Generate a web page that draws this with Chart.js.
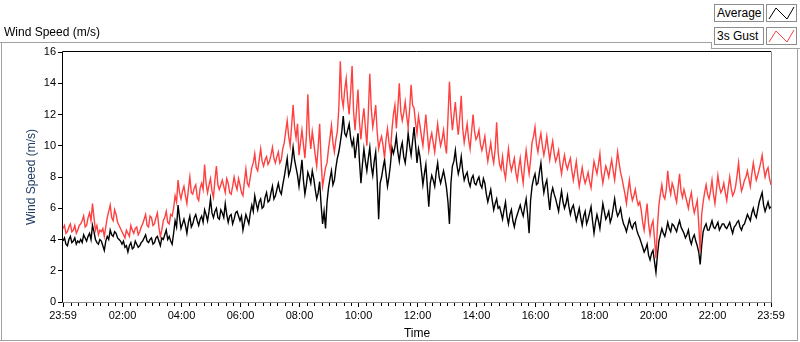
<!DOCTYPE html>
<html>
<head>
<meta charset="utf-8">
<title>Wind Speed</title>
<script src="https://cdn.jsdelivr.net/npm/chart.js@4.4.0/dist/chart.umd.min.js"></script>
<style>
  body { margin: 0; background: #fff; }
  #wrap { position: relative; width: 800px; height: 342px; overflow: hidden; font-family: "Liberation Sans", Arial, sans-serif; }
  #myChart { position: absolute; left: 0; top: 0; }
  .ln { position: absolute; background: #a0a0a0; }
  .lbl { position: absolute; font-size: 12px; color: #000; white-space: nowrap; }
  .box { position: absolute; height: 16px; border: 1px solid #8c8c8c; background: #fff; font-size: 12px; line-height: 16px; }
  .box svg { display: block; }
</style>
</head>
<body>
<div id="wrap">
  <canvas id="myChart" width="800" height="342"></canvas>

  <div class="lbl" style="left:4px; top:25px;">Wind Speed (m/s)</div>

  <div class="ln" style="left:0; top:42px; width:711px; height:1px;"></div>
  <div class="ln" style="left:711px; top:42px; width:1px; height:6px;"></div>
  <div class="ln" style="left:711px; top:48px; width:89px; height:1px;"></div>
  <div class="ln" style="left:797px; top:48px; width:1px; height:293px;"></div>
  <div class="ln" style="left:0; top:340px; width:798px; height:1px;"></div>
  <div class="ln" style="left:1px; top:42px; width:1px; height:299px;"></div>

  <div class="box" style="left:714px; top:4px; width:46px; padding-left:2px;">Average</div>
  <div class="box" style="left:766px; top:4px; width:29px;">
    <svg width="29" height="16"><polyline points="2,14 9,3 20,14 27,2" fill="none" stroke="#000" stroke-width="1"/></svg>
  </div>
  <div class="box" style="left:714px; top:27px; width:46px; padding-left:2px;">3s Gust</div>
  <div class="box" style="left:766px; top:27px; width:29px;">
    <svg width="29" height="16"><polyline points="2,14 9,3 20,14 27,2" fill="none" stroke="#ff4040" stroke-width="1"/></svg>
  </div>
</div>

<script>
// one sample every 3 minutes, starting 23:59
const stepMinutes = 3

const average = [
  3.9, 4.1, 3.7, 3.6, 4.0, 4.2, 3.8, 3.9, 4.1, 3.7, 3.9, 3.8,
  4.0, 3.8, 4.3, 4.1, 3.9, 4.2, 4.4, 4.0, 4.9, 4.5,
  4.0, 3.8, 3.7, 4.0, 3.9, 3.6, 3.3, 3.9,
  4.2, 4.0, 4.6, 4.3, 4.2, 4.5, 4.4, 4.1, 4.0, 3.9,
  3.7, 3.9, 3.5, 3.6, 3.2, 3.6,
  3.8, 3.4, 3.5, 3.9, 3.7, 3.5, 3.6, 3.8,
  3.9, 4.1, 4.3, 3.9, 3.8, 4.0, 4.1, 3.7, 3.8, 4.1, 4.2, 3.9, 3.6, 4.1,
  4.0, 4.3, 4.6, 4.0, 4.2, 3.9, 3.7, 4.4,
  5.2, 4.8, 6.2, 5.4,
  4.7, 5.0, 5.3, 4.9, 4.4, 5.1, 5.5, 4.8, 5.0, 5.4, 5.6, 5.2, 4.9, 5.3,
  5.5, 5.1, 5.9, 5.6, 5.2, 5.8, 6.6, 5.7, 5.4, 5.8, 6.0, 5.4, 5.3, 5.9,
  5.7, 5.4, 6.3, 5.6, 5.1, 5.5, 5.6, 5.0, 5.3, 5.7, 5.8, 5.5,
  5.2, 5.5, 4.6, 5.1, 5.6, 5.3, 5.0, 5.7,
  6.2, 5.8, 6.8, 6.3, 5.9, 6.4, 6.6, 6.0, 6.1, 6.7, 7.0, 6.4,
  6.5, 7.0, 7.4, 6.6, 6.8, 7.2, 7.6, 7.1, 6.9, 7.5,
  8.0, 8.6, 9.2, 8.1, 8.4, 9.0, 9.9, 9.1, 8.6, 8.1,
  7.4, 8.2, 9.1, 7.8, 6.9, 7.5, 8.3, 8.0, 7.6, 8.4,
  7.9, 7.2, 6.6, 7.0, 7.7, 6.2,
  5.0, 5.8, 4.7, 6.4,
  7.3, 7.9, 8.4, 7.5, 7.8, 8.6, 9.2, 9.6,
  10.2, 10.9, 11.9, 10.8, 10.6, 11.0, 11.4, 10.5, 10.0, 10.4,
  9.2, 10.0, 10.8, 9.0, 7.6, 8.8, 9.8, 9.0,
  8.4, 9.2, 9.9, 8.7, 8.1, 9.0, 9.6, 7.8, 5.3, 7.6,
  8.0, 8.6, 9.1, 8.2, 7.4, 8.0, 8.8, 9.9,
  9.5, 9.9, 10.6, 9.6, 9.0, 9.8, 10.2, 9.3, 8.9, 9.7, 10.8, 10.0, 9.4, 10.3, 11.2, 10.1, 8.9, 9.8,
  9.3, 8.4, 7.5, 8.2, 8.8, 7.4, 6.1, 7.6,
  8.1, 7.8, 7.4, 8.3, 8.9, 8.0, 7.6, 8.0, 8.4, 7.9, 7.3, 6.4,
  5.0, 7.6, 8.7, 9.0, 9.7, 8.8, 8.2, 8.6, 9.3, 8.4,
  7.8, 8.1, 8.3, 7.7, 7.4, 7.9, 8.1, 7.6, 7.5, 7.8, 8.0, 7.5, 7.3, 7.9,
  7.6, 6.9, 6.4, 6.8, 7.2, 6.5, 5.9, 6.3, 6.6, 6.0,
  6.1, 5.7, 5.3, 5.9, 6.4, 5.5, 5.0, 5.6, 5.9, 5.2, 4.8, 5.3, 5.6, 5.9,
  6.2, 5.8, 5.5, 6.1, 6.6, 5.6, 4.4, 6.5,
  7.4, 7.9, 8.2, 7.5, 7.6, 8.3, 8.9, 7.8,
  7.0, 7.5, 7.8, 6.8, 5.9, 6.9, 7.3, 6.9,
  6.6, 6.2, 5.8, 6.5, 7.1, 6.4, 6.0, 6.3, 6.8, 6.1, 5.6, 6.0,
  6.2, 5.7, 5.2, 5.6, 6.0, 5.4, 4.9, 5.5, 5.8, 5.0, 5.3, 5.7, 6.1, 5.2, 4.4, 5.1,
  5.6, 5.2, 4.7, 5.5, 6.3, 5.8, 5.3, 5.5,
  5.8, 5.1, 5.4, 6.0, 6.6, 5.9, 5.5, 5.7, 6.0, 5.4,
  5.0, 4.8, 4.5, 4.9, 5.3, 4.9, 4.7, 5.0, 5.1, 4.6, 4.3, 4.1,
  3.8, 3.5, 3.2, 3.4, 3.7, 3.0, 2.7, 3.1, 3.3, 2.6, 1.9, 3.0,
  3.9, 4.3, 4.7, 4.4, 4.2, 4.6, 5.1, 4.7, 4.5, 5.0,
  4.9, 4.7, 4.5, 4.9, 5.2, 4.8, 4.6, 4.4,
  4.1, 4.3, 4.6, 4.0, 3.7, 4.1, 4.3, 3.9, 3.6, 3.2, 2.4, 3.6,
  4.5, 4.8, 5.0, 4.6, 4.6, 4.9, 5.2, 4.8, 4.7, 4.9, 5.1, 4.6, 4.8, 5.0,
  5.0, 4.8, 4.7, 4.9, 5.1, 4.7, 4.4, 4.8, 4.9, 5.1, 5.2, 4.8, 4.6, 4.9, 5.0, 5.3,
  5.6, 5.4, 5.2, 5.7, 6.0, 5.6, 5.4, 5.9,
  6.4, 6.7, 7.0, 6.2, 5.8, 6.1, 6.4, 6.0, 6.1
]

const gust = [
  4.7, 4.9, 4.4, 4.5, 4.8, 5.0, 4.5, 4.6, 4.9, 4.4, 4.6, 4.9,
  5.0, 5.2, 5.5, 4.8, 4.9, 5.4, 5.7, 5.2, 6.3, 5.4,
  4.6, 4.9, 4.3, 4.6, 4.5, 4.7, 4.2, 4.8,
  5.4, 5.8, 6.2, 5.4, 5.2, 5.9, 5.6, 5.1, 4.9, 4.7,
  4.5, 4.3, 4.1, 4.6, 4.4, 4.2,
  4.9, 4.6, 4.4, 4.7, 4.8, 4.3, 4.5, 4.8,
  5.0, 5.3, 5.6, 4.9, 4.8, 5.5, 5.4, 4.9, 5.0, 5.4, 5.7, 4.8, 4.2, 4.6,
  5.2, 5.4, 5.8, 5.1, 5.0, 5.6, 5.5, 6.0,
  6.8, 6.4, 7.8, 7.0,
  6.6, 7.1, 7.4, 6.8, 6.3, 7.2, 8.0, 7.0, 6.9, 7.3, 7.5, 6.7, 6.5, 7.3,
  7.6, 7.2, 8.8, 7.6, 7.0, 7.5, 7.9, 7.1, 6.7, 7.8, 8.7, 7.5, 7.2, 7.5,
  7.8, 7.4, 7.0, 7.9, 7.6, 7.0, 6.9, 7.4, 8.0, 7.5, 7.2, 7.9,
  7.5, 7.0, 6.8, 7.7, 8.5, 7.6, 7.4, 8.0,
  8.6, 8.9, 9.5, 8.6, 8.4, 9.1, 9.8, 9.0, 8.7, 9.1, 9.3, 8.8,
  9.0, 9.4, 9.9, 9.2, 8.9, 9.3, 9.6, 8.9, 9.1, 9.8,
  10.2, 10.9, 11.6, 10.6, 10.0, 11.3, 12.6, 11.2, 10.5, 11.4,
  9.4, 10.2, 11.0, 10.1, 9.2, 10.6, 13.3, 10.8, 9.8, 10.9,
  10.2, 9.4, 8.7, 9.9, 11.4, 9.0,
  7.4, 8.0, 8.6, 8.9,
  9.8, 10.5, 11.3, 10.2, 9.6, 10.4, 10.9, 12.4,
  15.4, 13.1, 12.5, 13.6, 14.3, 12.9, 12.0, 13.4, 15.1, 12.2,
  11.0, 12.3, 13.6, 11.5, 10.4, 11.6, 12.4, 11.2,
  10.0, 12.1, 14.6, 12.4, 11.2, 11.8, 12.6, 10.9, 9.8, 10.3,
  10.6, 10.0, 9.2, 10.4, 11.1, 10.2, 9.6, 11.0,
  12.0, 12.6, 11.1, 12.4, 14.0, 12.2, 11.6, 12.1, 12.8, 11.9, 11.2, 12.3, 13.9, 12.6, 12.4, 11.5, 10.8, 11.9,
  11.3, 10.6, 10.0, 11.0, 12.0, 10.8, 9.7, 10.4,
  10.8, 10.2, 9.6, 10.5, 11.4, 10.6, 10.0, 10.4, 11.0, 10.1, 9.5, 11.8,
  14.1, 12.2, 11.0, 11.9, 12.8, 11.6, 10.7, 11.8, 13.2, 11.1,
  10.2, 10.8, 11.4, 10.4, 9.8, 10.9, 12.0, 10.9, 10.4, 10.6, 11.0, 10.1, 9.7, 10.1,
  10.6, 9.7, 9.0, 9.6, 10.2, 9.4, 8.9, 9.8, 11.5, 9.6,
  8.8, 8.5, 9.3, 8.4, 7.9, 8.9, 9.8, 8.9, 8.4, 8.8, 9.2, 8.3, 7.8, 8.6,
  9.2, 8.3, 7.6, 8.8, 9.7, 8.9, 8.2, 9.1,
  10.2, 10.6, 11.2, 10.1, 9.6, 10.3, 10.8, 10.0,
  9.4, 9.9, 10.6, 9.8, 9.1, 9.8, 10.3, 9.5,
  9.0, 9.3, 9.7, 8.8, 8.2, 8.9, 9.4, 8.8, 8.5, 8.9, 9.2, 8.4,
  7.8, 8.4, 9.0, 8.1, 7.4, 8.0, 8.6, 8.0, 7.6, 7.9, 8.3, 7.7, 7.3, 8.2, 9.0, 8.6,
  8.2, 8.8, 9.5, 8.3, 7.6, 8.2, 8.7, 8.4,
  8.0, 8.6, 9.1, 8.4, 7.8, 8.7, 9.6, 8.9, 8.3, 7.9,
  7.4, 6.9, 6.3, 7.1, 7.8, 7.0, 6.5, 6.8, 7.2, 6.6, 6.2, 6.4,
  5.9, 5.1, 4.6, 5.5, 6.3, 5.0, 4.3, 4.9, 5.2, 4.1, 2.8, 4.8,
  6.2, 6.9, 7.5, 6.8, 6.6, 7.2, 8.4, 7.4, 6.9, 7.6,
  7.3, 6.8, 6.4, 7.3, 8.2, 7.1, 6.7, 7.2,
  6.8, 6.4, 6.0, 6.6, 7.0, 6.2, 5.7, 6.1, 6.5, 5.0, 3.2, 5.6,
  6.4, 7.0, 7.5, 6.9, 6.6, 7.1, 7.8, 6.9, 6.3, 7.2, 8.1, 7.4, 7.0, 7.2,
  7.6, 7.0, 6.5, 7.3, 8.0, 7.3, 6.8, 7.0, 7.4, 8.1, 8.9, 7.8, 7.1, 7.4, 7.8, 8.0,
  8.4, 7.9, 7.4, 8.2, 8.9, 8.3, 7.8, 8.1,
  8.5, 8.9, 9.4, 8.6, 8.0, 8.4, 8.6, 7.9, 7.5
]

// tick positions in minutes after 23:59
const tickMinutes = [0, 121, 241, 361, 481, 601, 721, 841, 961, 1081, 1201, 1321, 1440]
const tickLabels = ['23:59', '02:00', '04:00', '06:00', '08:00', '10:00', '12:00', '14:00', '16:00', '18:00', '20:00', '22:00', '23:59']

const toPoints = (values) => values.map((v, i) => ({ x: i * stepMinutes, y: v }))

// plot frame + minor ticks on the time axis
const framePlugin = {
    id: 'frame',
    afterDraw(chart) {
        const ctx = chart.ctx
        const a = chart.chartArea
        const xs = chart.scales.x
        ctx.save()
        ctx.lineWidth = 1
        ctx.strokeStyle = '#000'
        ctx.beginPath()
        ctx.moveTo(a.left - 0.5, a.bottom)
        ctx.lineTo(a.left - 0.5, a.top - 0.5)
        ctx.lineTo(a.right, a.top - 0.5)
        ctx.stroke()
        ctx.strokeStyle = '#8c8c8c'
        ctx.beginPath()
        ctx.moveTo(a.right + 0.5, a.top - 0.5)
        ctx.lineTo(a.right + 0.5, a.bottom + 0.5)
        ctx.lineTo(a.left - 0.5, a.bottom + 0.5)
        ctx.stroke()
        ctx.strokeStyle = '#000'
        ctx.beginPath()
        for (let m = 16; m < 1440; m += 15) {
            if (tickMinutes.includes(m)) continue
            const px = Math.round(xs.getPixelForValue(m)) + 0.5
            ctx.moveTo(px, a.bottom + 1)
            ctx.lineTo(px, a.bottom + 4)
        }
        ctx.stroke()
        ctx.restore()
    }
}

const ctx = document.querySelector('#myChart').getContext('2d')

new Chart(ctx, {
    type: 'line',
    data: {
        datasets: [
            {
                label: '3s Gust',
                data: toPoints(gust),
                borderColor: '#ff4040',
                borderWidth: 1.4,
                pointRadius: 0,
                tension: 0,
                order: 1
            },
            {
                label: 'Average',
                data: toPoints(average),
                borderColor: '#000000',
                borderWidth: 1.4,
                pointRadius: 0,
                tension: 0,
                order: 2
            }
        ]
    },
    options: {
        responsive: false,
        animation: false,
        devicePixelRatio: 1,
        layout: { padding: { top: 52, right: 29, left: 0, bottom: 0 } },
        plugins: {
            legend: { display: false },
            tooltip: { enabled: false }
        },
        scales: {
            x: {
                type: 'linear',
                min: 0,
                max: 1440,
                afterFit: (scale) => { scale.height = 40 },
                afterBuildTicks: (scale) => {
                    scale.ticks = tickMinutes.map(v => ({ value: v }))
                },
                border: { display: false },
                grid: { drawOnChartArea: false, drawTicks: true, tickLength: 5, tickColor: '#000' },
                ticks: {
                    autoSkip: false,
                    maxRotation: 0,
                    padding: 2,
                    color: '#000',
                    font: { family: 'Liberation Sans', size: 11 },
                    callback: (val, idx) => tickLabels[idx]
                },
                title: {
                    display: true,
                    text: 'Time',
                    color: '#000',
                    font: { family: 'Liberation Sans', size: 12 },
                    padding: { top: 0, bottom: 1 }
                }
            },
            y: {
                min: 0,
                max: 16,
                afterFit: (scale) => { scale.width = 63 },
                border: { display: false },
                grid: { drawOnChartArea: false, drawTicks: true, tickLength: 5, tickColor: '#000' },
                ticks: {
                    stepSize: 2,
                    padding: 2,
                    color: '#000',
                    font: { family: 'Liberation Sans', size: 11 }
                },
                title: {
                    display: true,
                    text: 'Wind Speed (m/s)',
                    color: '#203d66',
                    font: { family: 'Liberation Sans', size: 12 },
                    padding: { top: 24, bottom: 0 }
                }
            }
        }
    },
    plugins: [framePlugin]
})
</script>
</body>
</html>
